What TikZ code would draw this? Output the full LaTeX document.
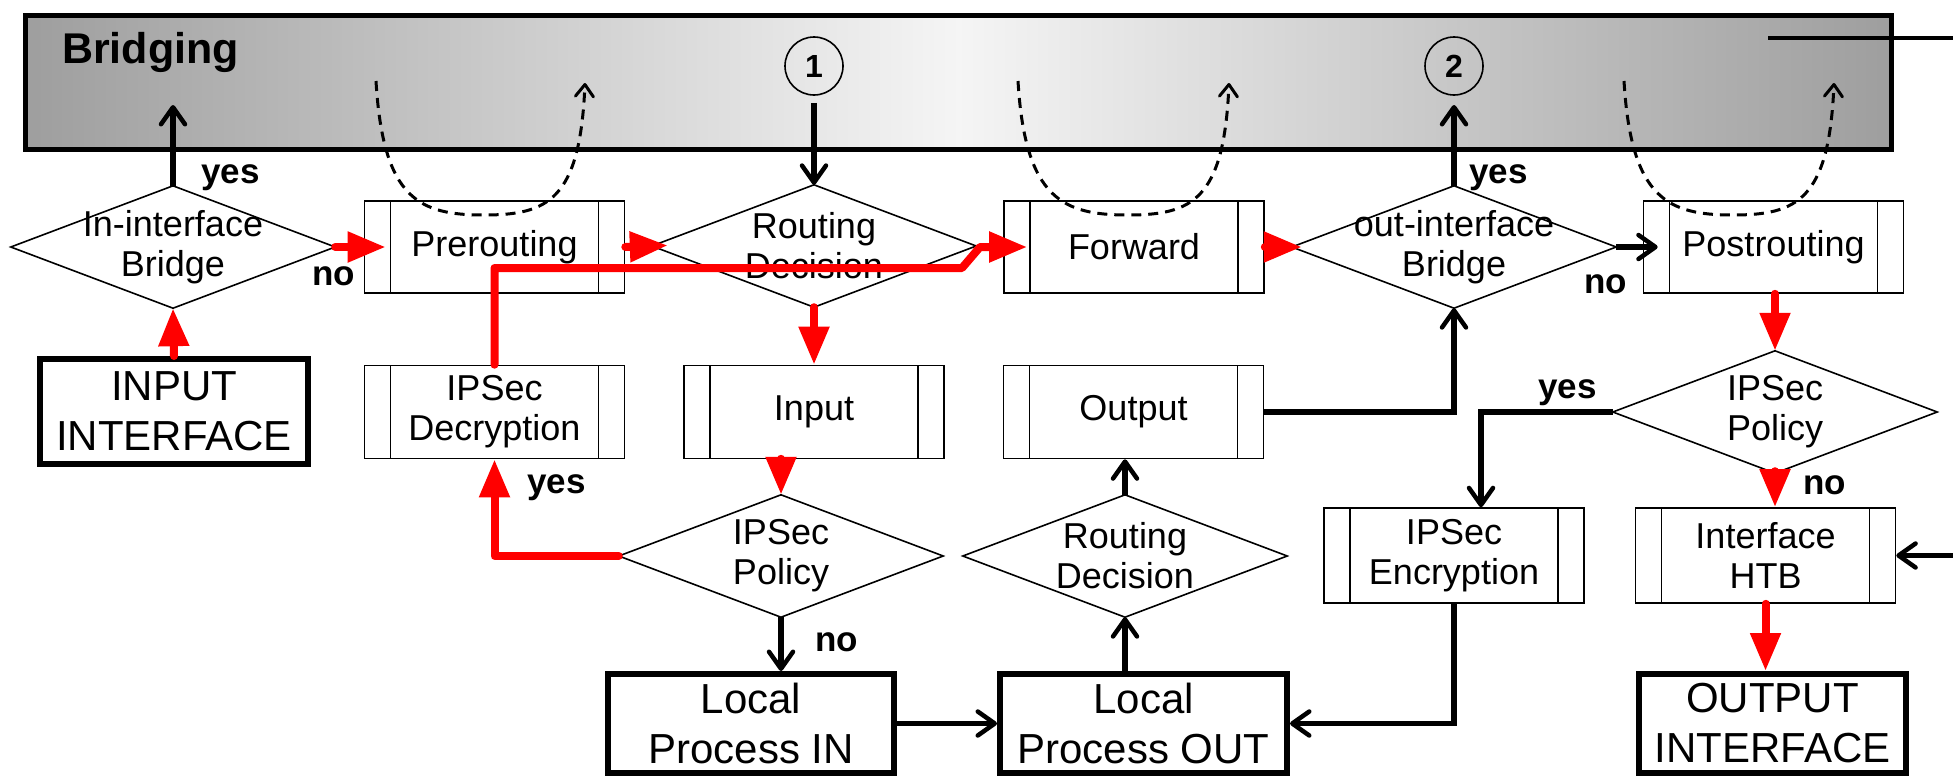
\documentclass[tikz,border=0pt]{standalone}
\usepackage{fontspec}
\setmainfont{Liberation Sans}
\usetikzlibrary{arrows.meta,calc}
\definecolor{bgedge}{gray}{0.62}
\definecolor{bgmid}{gray}{0.96}
\definecolor{pathred}{RGB}{255,0,0}
\tikzset{
  proc/.style={draw, line width=1.6pt, minimum width=260pt, minimum height=93pt, inner sep=0pt,
    font=\fontsize{36}{40}\selectfont, align=center,
    path picture={
      \draw[line width=1.6pt] ([xshift=26pt]path picture bounding box.north west) -- ([xshift=26pt]path picture bounding box.south west);
      \draw[line width=1.6pt] ([xshift=-26pt]path picture bounding box.north east) -- ([xshift=-26pt]path picture bounding box.south east);}},
  decis/.style={minimum width=324pt, minimum height=122pt, inner sep=0pt,
    font=\fontsize{36}{40}\selectfont, align=center},
  term/.style={draw, line width=6pt, inner sep=0pt, minimum height=99pt,
    font=\fontsize{42}{50}\selectfont, align=center},
  lbl/.style={font=\bfseries\fontsize{35}{40}\selectfont, inner sep=0pt, anchor=base west},
  blk/.style={line width=5.5pt, -{Straight Barb[length=17pt,width=24pt,line width=4.5pt,round]}},
  hot/.style={draw=pathred, line width=8pt, line cap=round, line join=round,
    -{Triangle[length=38pt,width=29pt]}, pathred},
  dsh/.style={line width=3pt, dash pattern=on 10pt off 7pt,
    -{Straight Barb[length=12pt,width=18pt,line width=3pt,round]}},
}
\begin{document}
\begin{tikzpicture}[x=1pt,y=-1pt]
\useasboundingbox (0,0) rectangle (1953,779);

% Bridging area
\node[draw, line width=5.5pt, minimum width=1866pt, minimum height=134pt, inner sep=0pt,
  left color=bgedge, right color=bgedge, middle color=bgmid] (bridge) at (958.5,82.5) {};
\node[font=\bfseries\fontsize{43}{46}\selectfont, anchor=base west, inner sep=0pt] (brlabel) at (62,63) {Bridging};
\coordinate (linestart) at (1768,38);
\coordinate (lineend) at (1953,38);
\draw[line width=4pt] (linestart) -- (lineend);

\node[circle, draw, line width=1.6pt, minimum size=58pt, inner sep=0pt, font=\bfseries\fontsize{32}{32}\selectfont] (c1) at (814,66) {1};
\node[circle, draw, line width=1.6pt, minimum size=58pt, inner sep=0pt, font=\bfseries\fontsize{32}{32}\selectfont] (c2) at (1454,66) {2};

% decisions
\node[decis] (ib) at (173,247) {In-interface\\Bridge};
\node[decis] (rd1) at (814,246) {Routing\\Decision};
\node[decis] (ob) at (1454,247) {out-interface\\Bridge};
\node[decis] (ip1) at (781,556) {IPSec\\Policy};
\node[decis] (rd2) at (1125,556) {Routing\\Decision};
\node[decis] (ip2) at (1775,412) {IPSec\\Policy};
\foreach \n in {ib,rd1,ob,ip1,rd2,ip2}
  \draw[line width=1.6pt, line join=miter] (\n.north) -- (\n.east) -- (\n.south) -- (\n.west) -- cycle;

% processes
\node[proc, minimum height=92pt] (pre) at (494.5,247) {Prerouting};
\node[proc, minimum height=92pt] (fwd) at (1134,247) {Forward};
\node[proc, minimum height=92pt] (post) at (1773.5,247) {Postrouting};
\node[proc] (dec) at (494.5,412) {IPSec\\Decryption};
\node[proc] (inp) at (814,412) {Input};
\node[proc] (out) at (1133.5,412) {Output};
\node[proc, minimum height=95pt] (enc) at (1454,555.5) {IPSec\\Encryption};
\node[proc, minimum height=95pt] (htb) at (1765.5,555.5) {Interface\\HTB};

% terminals
\node[term, minimum width=268pt, minimum height=105pt] (inif) at (174,411.5) {INPUT\\INTERFACE};
\node[term, minimum width=286pt] (lpin) at (751,723.5) {Local\\Process IN};
\node[term, minimum width=287pt] (lpout) at (1143.5,723.5) {Local\\Process OUT};
\node[term, minimum width=267pt] (outif) at (1772.5,723.5) {OUTPUT\\INTERFACE};

% labels
\node[lbl] (y1) at (201,183) {yes};
\node[lbl] (n1) at (312,285) {no};
\node[lbl] (y2) at (1469,183) {yes};
\node[lbl] (n2) at (1584,293) {no};
\node[lbl] (y3) at (527,493) {yes};
\node[lbl] (n3) at (815,651) {no};
\node[lbl] (y4) at (1538,398) {yes};
\node[lbl] (n4) at (1803,494) {no};

% dashed bridging loops
\coordinate (d1s) at (376,81); \coordinate (d1m) at (484,215); \coordinate (d1e) at (585,83);
\coordinate (d2s) at (1018,81); \coordinate (d2m) at (1128,215); \coordinate (d2e) at (1229,83);
\coordinate (d3s) at (1624,81); \coordinate (d3m) at (1733,215); \coordinate (d3e) at (1834,83);
\draw[dsh] (d1s) .. controls ($(d1s)+(7,119)$) and ($(d1m)+(-64,0)$) .. (d1m) .. controls ($(d1m)+(64,0)$) and ($(d1e)+(-5,117)$) .. (d1e);
\draw[dsh] (d2s) .. controls ($(d2s)+(7,119)$) and ($(d2m)+(-64,0)$) .. (d2m) .. controls ($(d2m)+(64,0)$) and ($(d2e)+(-5,117)$) .. (d2e);
\draw[dsh] (d3s) .. controls ($(d3s)+(7,119)$) and ($(d3m)+(-64,0)$) .. (d3m) .. controls ($(d3m)+(64,0)$) and ($(d3e)+(-5,117)$) .. (d3e);

% black connectors
\coordinate (b1) at (173,105);
\coordinate (b3) at (1454,105);
\coordinate (htbin) at (1953,555.5);
\draw[blk] (ib.north) -- (b1);
\draw[blk, shorten <=7pt] (c1.south) -- (rd1.north);
\draw[blk] (ob.north) -- (b3);
\draw[blk, shorten >=-15pt] (ob.east) -- (post.west);
\draw[blk] (out.east) -| (ob.south);
\draw[blk] (ip2.west) -| ([xshift=27pt]enc.north);
\draw[blk] (enc.south) |- (lpout.east);
\draw[blk] (ip1.south) -- (ip1.south |- lpin.north);
\draw[blk] (lpin.east) -- (lpout.west);
\draw[blk] (rd2.south |- lpout.north) -- (rd2.south);
\draw[blk] (rd2.north) -- (rd2.north |- out.south);
\draw[blk] (htbin) -- (htb.east);

% red path
\coordinate (k1) at (962,268);
\coordinate (k2) at (980,247);
\draw[hot] (inif.north) -- (ib.south);
\draw[hot, shorten >=-22pt] (ib.east) -- (pre.west);
\draw[hot, shorten >=-16pt] (pre.east) -- (rd1.west);
\draw[hot] (rd1.south) -- (inp.north);
\draw[hot, shorten <=-8pt] (ip1.north |- inp.south) -- (ip1.north);
\draw[hot] (ip1.west) -| (dec.south);
\draw[hot, shorten >=-24pt] (dec.north) -- (dec.north |- k1) -- (k1) -- (k2) -- (fwd.west);
\draw[hot, shorten >=-10pt] (fwd.east) -- (ob.west);
\draw[hot] (post.south -| ip2.north) -- (ip2.north);
\draw[hot] (ip2.south) -- (ip2.south |- htb.north);
\draw[hot] (htb.south) -- (htb.south |- outif.north);
\end{tikzpicture}
\end{document}
